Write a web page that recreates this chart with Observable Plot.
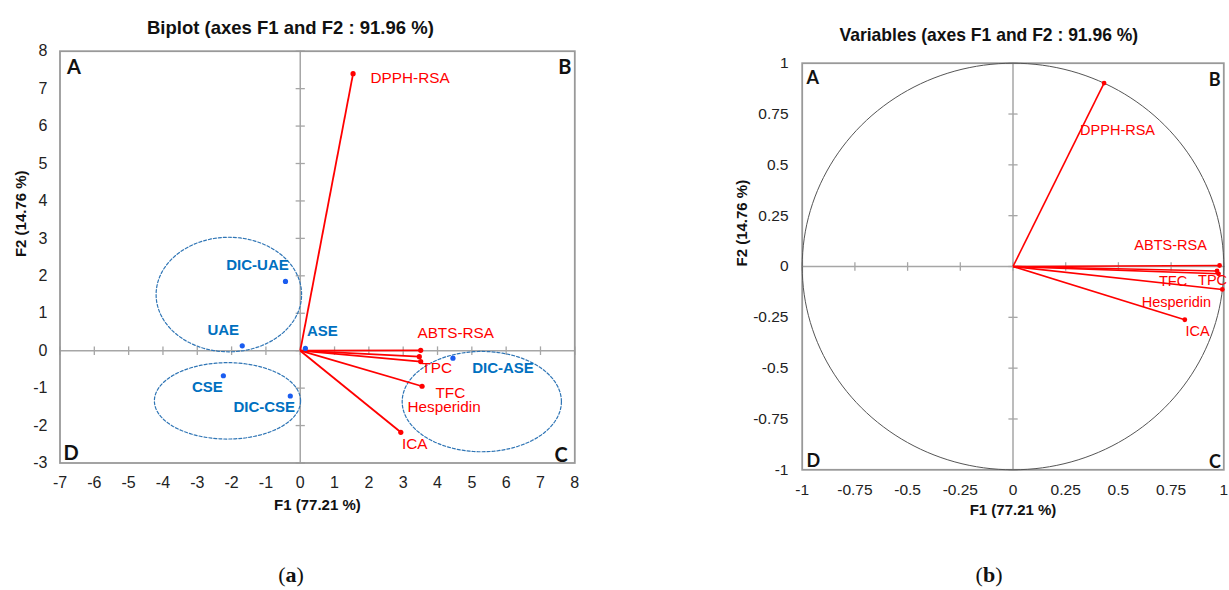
<!DOCTYPE html>
<html><head><meta charset="utf-8">
<script src="https://cdn.jsdelivr.net/npm/d3@7"></script>
<script src="https://cdn.jsdelivr.net/npm/@observablehq/plot@0.6"></script>
<style>
html,body{margin:0;padding:0;background:#fff;overflow:hidden;}
#root{position:relative;width:1229px;height:590px;overflow:hidden;font-family:"Liberation Sans",Arial,sans-serif;}
.title{position:absolute;font-weight:bold;font-size:18.5px;white-space:nowrap;color:#111;}
.cap{position:absolute;font-family:"Liberation Serif","DejaVu Serif",serif;font-size:22px;white-space:nowrap;color:#111;transform:translate(-50%,-50%);}
.panel{position:absolute;top:0;}
</style></head><body><div id="root"></div>
<script>
// ---------- data ----------
const obsNames = ["DIC-UAE", "UAE", "ASE", "CSE", "DIC-CSE", "DIC-ASE"];
const obsF1 = [-0.43, -1.69, 0.15, -2.24, -0.29, 4.45];
const obsF2 = [1.85, 0.13, 0.06, -0.67, -1.21, -0.20];

const varNames = ["DPPH-RSA", "ABTS-RSA", "TFC", "TPC", "Hesperidin", "ICA"];
const biplotF1 = [1.54, 3.51, 3.47, 3.51, 3.55, 2.93];
const biplotF2 = [7.40, 0.01, -0.16, -0.29, -0.95, -2.18];
const corrF1 = [0.432, 0.980, 0.968, 0.975, 0.993, 0.815];
const corrF2 = [0.902, 0.005, -0.022, -0.036, -0.113, -0.262];

const xTicksA = [-7, -6, -5, -4, -3, -2, -1, 0, 1, 2, 3, 4, 5, 6, 7, 8];
const yTicksA = [-3, -2, -1, 0, 1, 2, 3, 4, 5, 6, 7, 8];
const ticksB = [-1, -0.75, -0.5, -0.25, 0, 0.25, 0.5, 0.75, 1];
const quadrants = ["A", "B", "C", "D"];

// group ellipses (annotation shapes): centre and radii in F1/F2 units
const groupEllipses = [
  {id: "g1", cx: -2.08, cy: 1.50, rx: 2.12, ry: 1.53},
  {id: "g2", cx: -2.12, cy: -1.34, rx: 2.13, ry: 1.02},
  {id: "g3", cx: 5.29, cy: -1.36, rx: 2.32, ry: 1.34}
];

// ---------- layout / style ----------
const obsLabelNudge = [[-28, -16], [-19, -16], [17, -17], [-16, 11], [-26, 11], [50, 10]];
const varLabelNudgeA = [[57, 4], [35, -17], [31, 36], [16, 7], [22, 21], [14, 12]];
const varLabelNudgeB = [[13.5, 47], [-49, -20.5], [-44, 10], [-6, 7], [-46, 12.7], [12.7, 11.5]];
const RED = "#ff0000", BLUE_LBL = "#0070c0", BLUE_DOT = "#1a5cf0", ELL = "#2f75b5", AXIS = "#a6a6a6", FRAME = "#999";

const hTick = {draw(ctx, size) { const r = Math.sqrt(size / Math.PI); ctx.moveTo(-r, 0); ctx.lineTo(r, 0); }};
const vTick = {draw(ctx, size) { const r = Math.sqrt(size / Math.PI); ctx.moveTo(0, -r); ctx.lineTo(0, r); }};
const fmt = d => String(d);
const idx = varNames.map((_, i) => i);
const oidx = obsNames.map((_, i) => i);

function ellipsePts(list) {
  return list.flatMap(e => d3.range(0, 361, 3).map(a => ({
    id: e.id,
    x: e.cx + e.rx * Math.cos(a * Math.PI / 180),
    y: e.cy + e.ry * Math.sin(a * Math.PI / 180)
  })));
}
const unitCircle = d3.range(0, 361, 2).map(a => ({x: Math.cos(a * Math.PI / 180), y: Math.sin(a * Math.PI / 180)}));

function corners(letterSize, nudges) {
  const anchors = ["top-left", "top-right", "bottom-right", "bottom-left"];
  return quadrants.map((q, i) => Plot.text([q], {
    text: d => d, frameAnchor: anchors[i], dx: nudges[i][0], dy: nudges[i][1],
    fontFamily: "Lato, 'Open Sans', sans-serif", fontWeight: "bold", fontSize: letterSize, fill: "#111"
  }));
}

// ---------- panel (a) ----------
const plotA = Plot.plot({
  width: 610, height: 530,
  marginLeft: 59.5, marginRight: 35.7, marginTop: 50.7, marginBottom: 67.5,
  x: {domain: [-7, 8]},
  y: {domain: [-3, 8]},
  style: {fontFamily: "'Liberation Sans', Arial, sans-serif", fontSize: "16px", color: "#222", overflow: "visible", background: "transparent"},
  marks: [
    Plot.axisX(xTicksA, {tickSize: 0, tickPadding: 13.5, tickFormat: fmt, label: null}),
    Plot.axisY(yTicksA, {tickSize: 0, tickPadding: 12.5, tickFormat: fmt, label: null}),
    Plot.ruleX([0], {stroke: AXIS, strokeWidth: 1.5}),
    Plot.ruleY([0], {stroke: AXIS, strokeWidth: 1.5}),
    Plot.dot(yTicksA, {x: 0, y: d => d, symbol: hTick, r: 4.6, stroke: AXIS, fill: "none", strokeWidth: 1.3}),
    Plot.dot(xTicksA, {x: d => d, y: 0, symbol: vTick, r: 4.3, stroke: AXIS, fill: "none", strokeWidth: 1.3}),
    Plot.frame({stroke: FRAME, strokeWidth: 1.8}),
    Plot.line(ellipsePts(groupEllipses), {x: "x", y: "y", z: "id", stroke: ELL, strokeWidth: 1.2, strokeDasharray: "3,2"}),
    Plot.link(idx, {x1: 0, y1: 0, x2: i => biplotF1[i], y2: i => biplotF2[i], stroke: RED, strokeWidth: 1.8}),
    Plot.dot(idx, {x: i => biplotF1[i], y: i => biplotF2[i], r: 2.6, fill: RED}),
    Plot.dot(oidx, {x: i => obsF1[i], y: i => obsF2[i], r: 2.6, fill: BLUE_DOT}),
    ...oidx.map(i => Plot.text([i], {x: j => obsF1[j], y: j => obsF2[j], text: j => obsNames[j],
      dx: obsLabelNudge[i][0], dy: obsLabelNudge[i][1], fill: BLUE_LBL, fontWeight: "bold", fontSize: 15})),
    ...idx.map(i => Plot.text([i], {x: j => biplotF1[j], y: j => biplotF2[j], text: j => varNames[j],
      dx: varLabelNudgeA[i][0], dy: varLabelNudgeA[i][1], fill: RED, fontSize: 15.3})),
    ...corners(20, [[7, 9], [-3.3, 9], [-7, -1], [3.5, -3.5]]),
    Plot.text(["F1 (77.21 %)"], {text: d => d, frameAnchor: "bottom", dy: 46.5, fontWeight: "bold", fontSize: 15, fill: "#111"}),
    Plot.text(["F2 (14.76 %)"], {text: d => d, frameAnchor: "left", dx: -38.5, rotate: -90, fontWeight: "bold", fontSize: 15, fill: "#111"})
  ]
});

// ---------- panel (b) ----------
const plotB = Plot.plot({
  width: 609, height: 530,
  marginLeft: 181.7, marginRight: 5.7, marginTop: 62.7, marginBottom: 60.7,
  x: {domain: [-1, 1]},
  y: {domain: [-1, 1]},
  style: {fontFamily: "'Liberation Sans', Arial, sans-serif", fontSize: "15.5px", color: "#222", overflow: "visible", background: "transparent"},
  marks: [
    Plot.axisX(ticksB, {tickSize: 0, tickPadding: 14, tickFormat: fmt, label: null}),
    Plot.axisY(ticksB, {tickSize: 0, tickPadding: 13.7, tickFormat: fmt, label: null}),
    Plot.ruleX([0], {stroke: AXIS, strokeWidth: 1.5}),
    Plot.ruleY([0], {stroke: AXIS, strokeWidth: 1.5}),
    Plot.dot(ticksB, {x: 0, y: d => d, symbol: hTick, r: 4.6, stroke: AXIS, fill: "none", strokeWidth: 1.3}),
    Plot.dot(ticksB, {x: d => d, y: 0, symbol: vTick, r: 4.3, stroke: AXIS, fill: "none", strokeWidth: 1.3}),
    Plot.frame({stroke: FRAME, strokeWidth: 1.8}),
    Plot.line(unitCircle, {x: "x", y: "y", stroke: "#555", strokeWidth: 1}),
    Plot.link(idx, {x1: 0, y1: 0, x2: i => corrF1[i], y2: i => corrF2[i], stroke: RED, strokeWidth: 1.6}),
    Plot.dot(idx, {x: i => corrF1[i], y: i => corrF2[i], r: 2.4, fill: RED}),
    ...idx.map(i => Plot.text([i], {x: j => corrF1[j], y: j => corrF2[j], text: j => varNames[j],
      dx: varLabelNudgeB[i][0], dy: varLabelNudgeB[i][1], fill: RED, fontSize: 14.5})),
    ...corners(18, [[4.3, 8], [-3.3, 10], [-3, -2.3], [4.3, -3.3]]),
    Plot.text(["F1 (77.21 %)"], {text: d => d, frameAnchor: "bottom", dy: 44.7, fontWeight: "bold", fontSize: 15, fill: "#111"}),
    Plot.text(["F2 (14.76 %)"], {text: d => d, frameAnchor: "left", dx: -59.7, rotate: -90, fontWeight: "bold", fontSize: 15, fill: "#111"})
  ]
});

const root = document.getElementById("root");
plotA.classList.add("panel"); plotA.style.left = "0px"; plotA.style.maxWidth = "none";
plotB.classList.add("panel"); plotB.style.left = "620px"; plotB.style.maxWidth = "none";
root.appendChild(plotA); root.appendChild(plotB);

function addTitle(text, cx, cy, targetW) {
  const d = document.createElement("div");
  d.className = "title"; d.textContent = text;
  root.appendChild(d);
  const w = d.offsetWidth, h = d.offsetHeight;
  const k = targetW / w;
  d.style.left = (cx - w / 2) + "px"; d.style.top = (cy - h / 2) + "px";
  d.style.transform = `scaleX(${k})`; d.style.transformOrigin = "center center";
}
addTitle("Biplot (axes F1 and F2 : 91.96 %)", 290.5, 28.3, 287);
addTitle("Variables (axes F1 and F2 : 91.96 %)", 989, 35, 299);

function addCap(letter, cx, cy) {
  const d = document.createElement("div");
  d.className = "cap"; d.innerHTML = `(<b>${letter}</b>)`;
  d.style.left = cx + "px"; d.style.top = cy + "px";
  root.appendChild(d);
}
addCap("a", 291, 575);
addCap("b", 989, 575);
</script></body></html>
